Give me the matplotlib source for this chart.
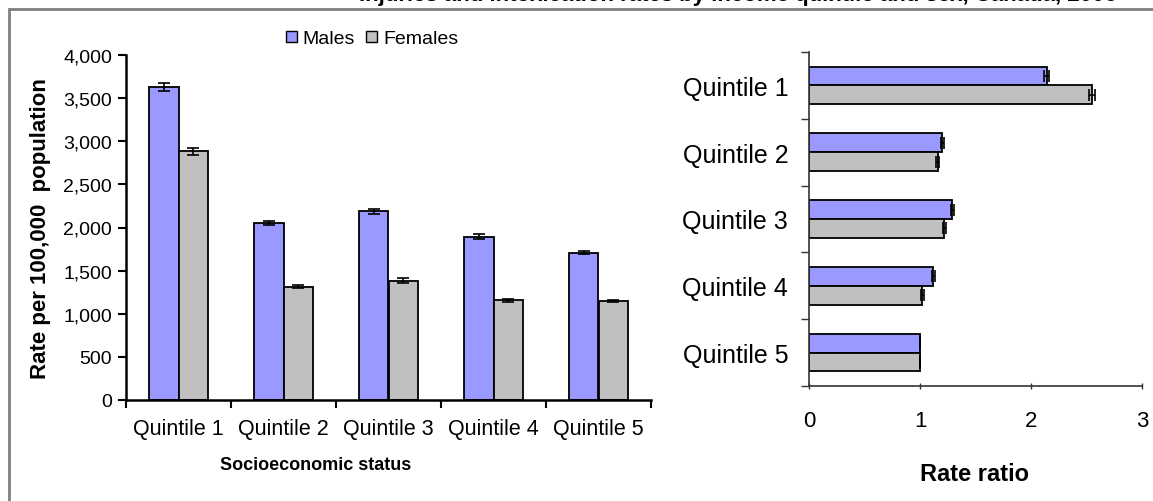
import numpy as np
import matplotlib
matplotlib.use("Agg")
import matplotlib.pyplot as plt
from matplotlib.patches import Patch, Rectangle
from matplotlib.ticker import FuncFormatter

plt.rcParams['font.family'] = ['Liberation Sans', 'DejaVu Sans']

QUINTILES = ["Quintile 1", "Quintile 2", "Quintile 3", "Quintile 4", "Quintile 5"]

# rates per 100,000 population
male_rate = [3625, 2055, 2190, 1895, 1710]
female_rate = [2885, 1315, 1385, 1155, 1150]
male_rate_err = [45, 25, 30, 25, 15]
female_rate_err = [40, 22, 25, 20, 12]

# rate ratios (Quintile 5 = reference)
male_ratio = [2.14, 1.20, 1.29, 1.12, 1.00]
female_ratio = [2.55, 1.16, 1.22, 1.02, 1.00]
male_ratio_err = [0.02, 0.015, 0.015, 0.012, 0.0]
female_ratio_err = [0.025, 0.015, 0.015, 0.015, 0.0]

MALE_COLOR = "#9999FF"
FEMALE_COLOR = "#C0C0C0"
TITLE = "Injuries and intoxication rates by income quintile and sex, Canada, 2006"

fig = plt.figure(figsize=(11.53, 5.02), dpi=100)

# outer frame (cropped: only top and left edges visible)
fig.patches.append(Rectangle((9 / 1153, -0.2), 1.5, 1 - 9.5 / 502 + 0.2,
                             transform=fig.transFigure, fill=False,
                             edgecolor="#808080", linewidth=2))
# title clipped by the top edge of the image
fig.text(0.64, 1 - 1.5 / 502, TITLE, ha="center", va="baseline",
         fontsize=16, fontweight="bold")

bar_w = 0.28
x = np.arange(len(QUINTILES))

# ---- left: rates
ax1 = fig.add_axes([126 / 1153, 1 - 401 / 502, 525 / 1153, 345 / 502])
err_kw = dict(ecolor="black", capsize=4.5, elinewidth=1.2, capthick=1.2)
ax1.bar(x - bar_w / 2, male_rate, bar_w, yerr=male_rate_err, color=MALE_COLOR,
        edgecolor="black", linewidth=1.3, error_kw=err_kw)
ax1.bar(x + bar_w / 2, female_rate, bar_w, yerr=female_rate_err, color=FEMALE_COLOR,
        edgecolor="black", linewidth=1.3, error_kw=err_kw)
ax1.set_xlim(-0.5, len(QUINTILES) - 0.5)
ax1.set_ylim(0, 4000)
ax1.set_yticks(np.arange(0, 4001, 500))
ax1.yaxis.set_major_formatter(FuncFormatter(lambda v, p: f"{int(v):,}"))
ax1.set_xticks(x)
ax1.set_xticklabels(QUINTILES, fontsize=15.5)
ax1.set_xticks(np.arange(-0.5, len(QUINTILES), 1), minor=True)
ax1.tick_params(axis="x", which="major", length=0, pad=13)
ax1.tick_params(axis="x", which="minor", length=6, width=1.5, direction="out")
ax1.tick_params(axis="y", labelsize=14, length=6, width=1.5, pad=4)
for s in ["top", "right"]:
    ax1.spines[s].set_visible(False)
for s in ["left", "bottom"]:
    ax1.spines[s].set_linewidth(1.8)
ax1.set_xlabel("Socioeconomic status", fontsize=13, fontweight="bold")
ax1.xaxis.set_label_coords((316 - 126) / 525, -(457 - 401) / 345)
ax1.set_ylabel("Rate per 100,000  population", fontsize=16, fontweight="bold")
ax1.yaxis.set_label_coords(-(126 - 51) / 525, 0.5)

handles = [Patch(facecolor=MALE_COLOR, edgecolor="black", label="Males"),
           Patch(facecolor=FEMALE_COLOR, edgecolor="black", label="Females")]
fig.legend(handles=handles, loc="center", bbox_to_anchor=(372 / 1153, 1 - 40 / 502),
           ncol=2, frameon=False, fontsize=14, handlelength=0.55, handleheight=0.55,
           handletextpad=0.3, columnspacing=0.6, borderpad=0)

# ---- right: rate ratios
ax2 = fig.add_axes([809 / 1153, 1 - 387 / 502, 333 / 1153, 334 / 502])
herr_kw = dict(ecolor="black", capsize=4, elinewidth=1.2, capthick=1.2)
ax2.barh(x - bar_w / 2, male_ratio, bar_w, xerr=male_ratio_err, color=MALE_COLOR,
         edgecolor="black", linewidth=1.3, error_kw=herr_kw)
ax2.barh(x + bar_w / 2, female_ratio, bar_w, xerr=female_ratio_err, color=FEMALE_COLOR,
         edgecolor="black", linewidth=1.3, error_kw=herr_kw)
ax2.set_ylim(len(QUINTILES) - 0.5, -0.5)
ax2.set_xlim(0, 3)
ax2.set_xticks([0, 1, 2, 3])
ax2.set_yticks(x)
ax2.set_yticklabels(QUINTILES, fontsize=18)
ax2.set_yticks(np.arange(-0.5, len(QUINTILES), 1), minor=True)
ax2.tick_params(axis="y", which="major", length=0, pad=15)
ax2.tick_params(axis="y", which="minor", length=6, width=1, direction="out", color="#333333")
ax2.tick_params(axis="x", labelsize=16, length=4, width=1, direction="inout", pad=15,
                color="#333333")
for s in ["top", "right"]:
    ax2.spines[s].set_visible(False)
for s in ["left", "bottom"]:
    ax2.spines[s].set_color("#333333")
    ax2.spines[s].set_linewidth(1.2)
ax2.set_xlabel("Rate ratio", fontsize=17, fontweight="bold")
ax2.xaxis.set_label_coords((975 - 809) / 333, -(463 - 387) / 334)

fig.savefig("out.png", dpi=100)
